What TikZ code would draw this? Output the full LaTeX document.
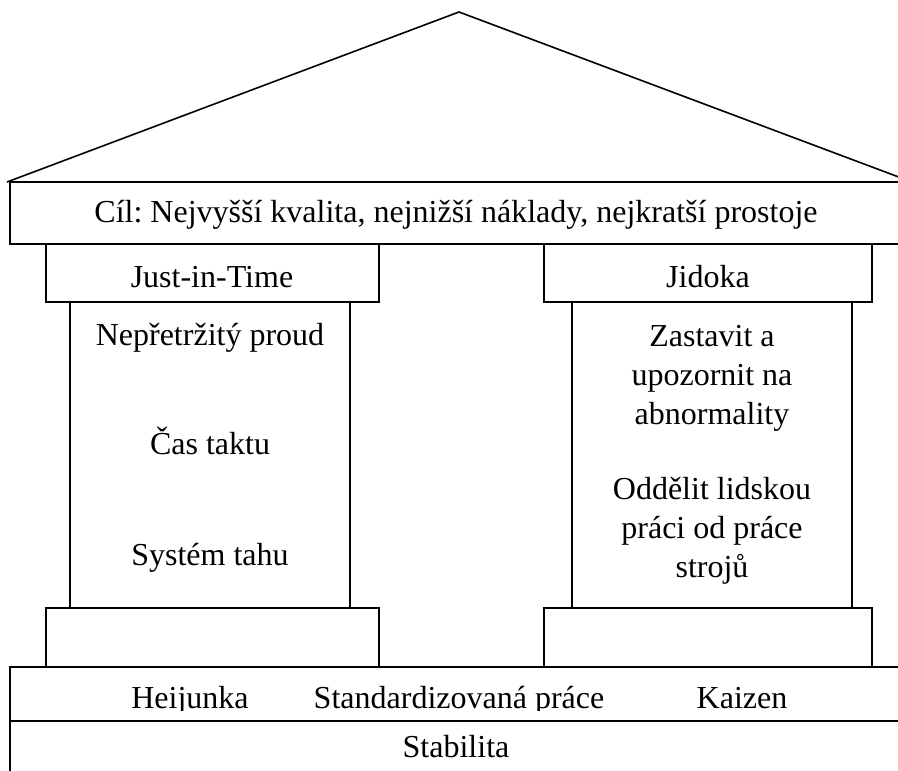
\documentclass[tikz,border=0pt]{standalone}
\usepackage{fontspec}
\setmainfont{Liberation Serif}
\frenchspacing
\begin{document}
\begin{tikzpicture}[x=0.75pt,y=-0.75pt,
  part/.style={draw=black,line width=1.2pt,line join=miter},
  lbl/.style={anchor=base,inner sep=0pt,font=\fontsize{24}{29}\selectfont}]
\useasboundingbox (0,0) rectangle (898,770);
\begin{scope}
\clip (0,0) rectangle (898,770);
% roof
\draw[part] (7,182) -- (459,12) -- (912,182);
% goal beam
\draw[part] (10,182) rectangle (912,244);
% caps
\draw[part] (46,244) rectangle (379,302);
\draw[part] (544,244) rectangle (872,302);
% shafts
\draw[part] (70,302) rectangle (350,608);
\draw[part] (572,302) rectangle (852,608);
% bases
\draw[part] (46,608) rectangle (379,667);
\draw[part] (544,608) rectangle (872,667);
% foundation
\draw[part] (10,667) rectangle (912,721);
\draw[part] (10,721) rectangle (912,790);
\end{scope}
% texts
\node[lbl] (goal) at (456,222) {Cíl: Nejvyšší kvalita, nejnižší náklady, nejkratší prostoje};
\node[lbl] (jit) at (212,287) {Just-in-Time};
\node[lbl] (jid) at (708,287) {Jidoka};
\node[lbl] (l1) at (210,345) {Nepřetržitý proud};
\node[lbl] (l2) at (210,454) {Čas taktu};
\node[lbl] (l3) at (210,565) {Systém tahu};
\node[lbl] (r1) at (712,346) {Zastavit a};
\node[lbl] (r2) at (712,385) {upozornit na};
\node[lbl] (r3) at (712,424) {abnormality};
\node[lbl] (r4) at (712,499) {Oddělit lidskou};
\node[lbl] (r5) at (712,538) {práci od práce};
\node[lbl] (r6) at (712,577) {strojů};
\begin{scope}
\clip (0,667) rectangle (898,710);
\node[lbl] (hei) at (190,708) {Heijunka};
\node[lbl] (std) at (459,708) {Standardizovaná práce};
\node[lbl] (kai) at (742,708) {Kaizen};
\end{scope}
\node[lbl] (stab) at (456,757) {Stabilita};
\end{tikzpicture}
\end{document}
